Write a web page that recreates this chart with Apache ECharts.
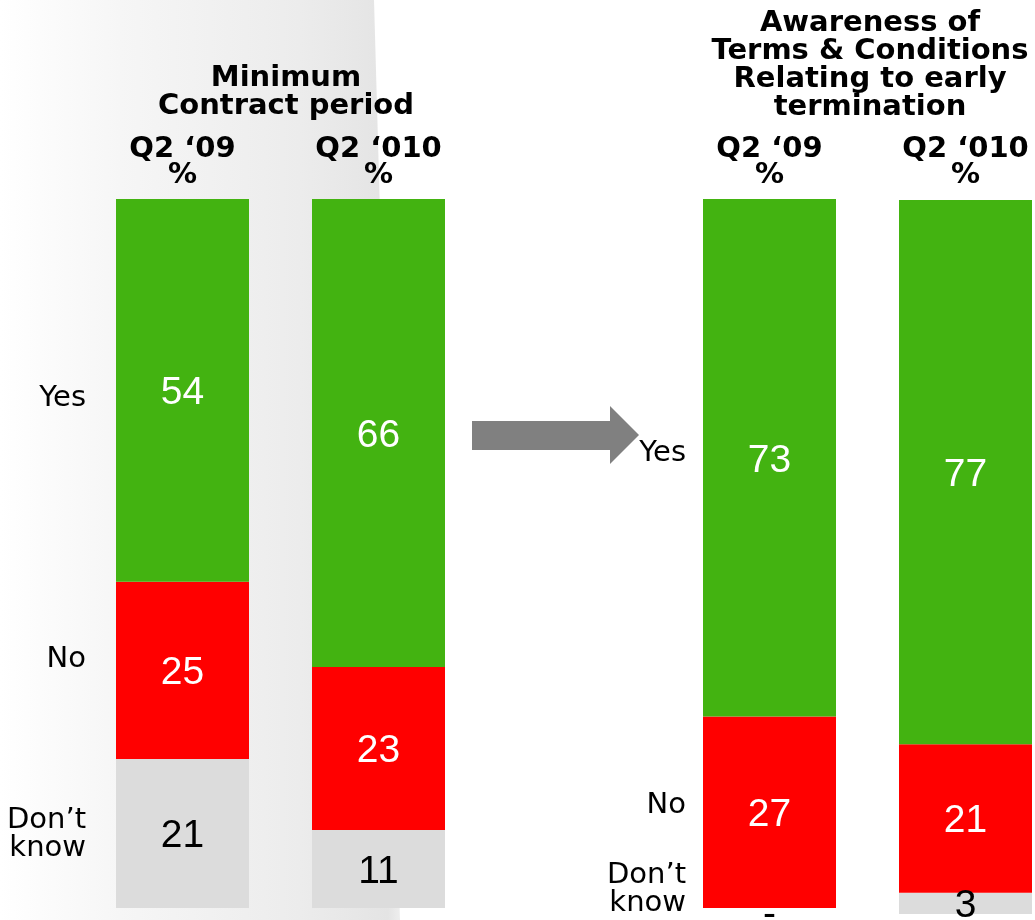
<!DOCTYPE html>
<html><head><meta charset="utf-8">
<script src="https://cdn.jsdelivr.net/npm/echarts@6/dist/echarts.min.js"></script>
<style>html,body{margin:0;padding:0;background:#fff}#c{width:1035px;height:920px}</style>
</head><body><div id="c"></div>
<script>
// ---- data ----
const categories = ['Q2 \u201809', 'Q2 \u2018010'];
const panelTitles = ['Minimum\nContract period', 'Awareness of\nTerms & Conditions\nRelating to early\ntermination'];
const rowLabels = ['Yes', 'No', 'Don\u2019t\nknow'];
const contractYes = [54, 66];
const contractNo = [25, 23];
const contractDontKnow = [21, 11];
const termsYes = [73, 77];
const termsNo = [27, 21];
const termsDontKnow = [0, 3];

// ---- layout ----
const GREEN = '#43b311', RED = '#ff0000', GREY = '#dcdcdc';
const TITLE_FONT = '"DejaVu Sans", Verdana, sans-serif';
const VALUE_FONT = '"Liberation Sans", Arial, sans-serif';
const bars = [
  {left: 116, top: 199, height: 709, panel: 0, idx: 0},
  {left: 312, top: 199, height: 709, panel: 0, idx: 1},
  {left: 703, top: 199, height: 709, panel: 1, idx: 0},
  {left: 899, top: 200, height: 714, panel: 1, idx: 1}
];
const panelData = [
  {yes: contractYes, no: contractNo, dk: contractDontKnow},
  {yes: termsYes, no: termsNo, dk: termsDontKnow}
];

const grid = [], xAxis = [], yAxis = [], series = [];
bars.forEach((b, i) => {
  const d = panelData[b.panel];
  const total = d.yes[b.idx] + d.no[b.idx] + d.dk[b.idx];
  grid.push({left: b.left, top: b.top, width: 133, height: b.height, containLabel: false});
  xAxis.push({
    gridIndex: i, type: 'category', data: [categories[b.idx]], position: 'top',
    axisLine: {show: false}, axisTick: {show: false}, splitLine: {show: false},
    axisLabel: {
      formatter: v => v + '\n%', fontWeight: 'bold', fontSize: 29, lineHeight: 26,
      fontFamily: TITLE_FONT, color: '#000', margin: 11 + (b.top - 199), interval: 0
    }
  });
  yAxis.push({gridIndex: i, type: 'value', min: 0, max: total, show: false});
  const parts = [
    {name: 'Don\u2019t know', v: d.dk[b.idx], color: GREY, text: '#000'},
    {name: 'No', v: d.no[b.idx], color: RED, text: '#fff'},
    {name: 'Yes', v: d.yes[b.idx], color: GREEN, text: '#fff'}
  ];
  parts.forEach(p => {
    const item = p.v === 0 ? {value: 0, label: {offset: [0, 7]}} : p.v;
    series.push({
      type: 'bar', name: p.name, xAxisIndex: i, yAxisIndex: i, stack: 'bar' + i,
      barWidth: '100%', data: [item], itemStyle: {color: p.color},
      emphasis: {disabled: true}, silent: true,
      label: {
        show: true, position: 'inside', offset: [0, 3], color: p.text, fontSize: 39, fontFamily: VALUE_FONT,
        formatter: q => (q.value === 0 ? '-' : String(q.value))
      }
    });
  });
});

const rowFont = '29px ' + TITLE_FONT;
function rowText(text, x, y) {
  return {type: 'text', z: 10, style: {text, x, y, font: rowFont, fill: '#000', align: 'right', verticalAlign: 'middle', lineHeight: 28}};
}
function titleText(text, x, y) {
  return {type: 'text', z: 10, style: {text, x, y, font: 'bold 29px ' + TITLE_FONT, fill: '#000', align: 'center', verticalAlign: 'top', lineHeight: 28}};
}

const graphic = [
  {type: 'polygon', z: -10, shape: {points: [[0, 0], [374, 0], [400, 920], [0, 920]]},
   style: {fill: new echarts.graphic.LinearGradient(0, 0, 1, 0, [
     {offset: 0, color: '#ffffff'}, {offset: 0.3, color: '#f6f6f6'},
     {offset: 0.75, color: '#ececec'}, {offset: 0.97, color: '#e4e4e4'}, {offset: 1, color: '#eeeeee'}])}},
  {type: 'polygon', z: 5, shape: {points: [[472, 421], [610, 421], [610, 406], [639, 435], [610, 464], [610, 450], [472, 450]]},
   style: {fill: '#808080'}},
  titleText(panelTitles[0], 286, 64),
  titleText(panelTitles[1], 870, 9),
  rowText(rowLabels[0], 86, 398),
  rowText(rowLabels[1], 86, 659),
  rowText(rowLabels[2], 86, 834),
  rowText(rowLabels[0], 686, 453),
  rowText(rowLabels[1], 686, 805),
  rowText(rowLabels[2], 686, 889)
];

const chart = echarts.init(document.getElementById('c'), null, {renderer: 'canvas'});
chart.setOption({animation: false, backgroundColor: '#ffffff', grid, xAxis, yAxis, series, graphic});
</script></body></html>
